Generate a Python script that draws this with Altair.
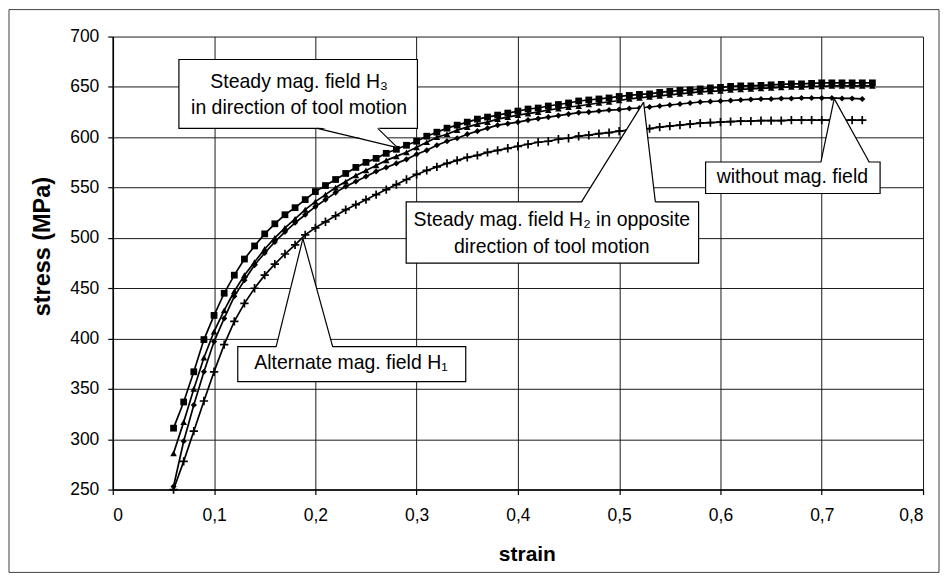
import altair as alt
import pandas as pd

# ---------------- data ----------------
STRAIN_LONG = [0.06, 0.07, 0.08, 0.09, 0.10, 0.11, 0.12, 0.13, 0.14, 0.15,
               0.16, 0.17, 0.18, 0.19, 0.20, 0.21, 0.22, 0.23, 0.24, 0.25,
               0.26, 0.27, 0.28, 0.29, 0.30, 0.31, 0.32, 0.33, 0.34, 0.35,
               0.36, 0.37, 0.38, 0.39, 0.40, 0.41, 0.42, 0.43, 0.44, 0.45,
               0.46, 0.47, 0.48, 0.49, 0.50, 0.51, 0.52, 0.53, 0.54, 0.55,
               0.56, 0.57, 0.58, 0.59, 0.60, 0.61, 0.62, 0.63, 0.64, 0.65,
               0.66, 0.67, 0.68, 0.69, 0.70, 0.71, 0.72, 0.73, 0.74, 0.75]
STRAIN_SHORT = [0.06, 0.07, 0.08, 0.09, 0.10, 0.11, 0.12, 0.13, 0.14, 0.15,
                0.16, 0.17, 0.18, 0.19, 0.20, 0.21, 0.22, 0.23, 0.24, 0.25,
                0.26, 0.27, 0.28, 0.29, 0.30, 0.31, 0.32, 0.33, 0.34, 0.35,
                0.36, 0.37, 0.38, 0.39, 0.40, 0.41, 0.42, 0.43, 0.44, 0.45,
                0.46, 0.47, 0.48, 0.49, 0.50, 0.51, 0.52, 0.53, 0.54, 0.55,
                0.56, 0.57, 0.58, 0.59, 0.60, 0.61, 0.62, 0.63, 0.64, 0.65,
                0.66, 0.67, 0.68, 0.69, 0.70, 0.71, 0.72, 0.73, 0.74]

# Steady mag. field H3 in direction of tool motion (squares)
STRESS_H3 = [311, 337, 367, 399, 423, 445, 463, 479, 492, 504,
             514, 523, 530, 538, 546, 552, 558, 564, 570, 575,
             579, 584, 588, 592, 596, 601, 605, 609, 612, 615,
             618, 620, 622, 624, 626, 628, 629, 631, 632.5, 634,
             636, 637, 638, 639, 640.5, 641.5, 642.5, 643, 644.5, 645.5,
             646.5, 647, 648, 649, 649.5, 650.5, 651, 651, 651.5, 652,
             652.5, 653, 653, 653.5, 654, 654, 654, 654, 654, 654]
# Steady mag. field H2 in opposite direction (triangles)
STRESS_H2 = [286, 317, 350, 381, 407, 428, 447, 463, 476, 489,
             500, 510, 519, 528, 536, 543, 550, 556, 562, 567,
             572, 577, 581, 585, 590, 595, 600, 603, 607, 610,
             613, 615, 618, 620, 622, 623.5, 625, 627, 628.5, 630,
             631, 632.5, 634, 635, 636.5, 638, 639, 640, 641, 642,
             643, 644, 645, 645.5, 646, 647, 647.5, 648, 648.5, 649,
             649.5, 650, 650, 650.5, 650.5, 651, 651, 651, 651, 651]
# without mag. field (diamonds)
STRESS_NONE = [253, 298, 334, 367, 397, 420, 442, 458, 473, 485,
               496, 506, 515, 523, 531, 538, 545, 551, 556, 561,
               566, 570, 574, 578, 583, 587, 592, 596, 599, 603,
               606, 609, 612, 613.5, 615, 617, 618.5, 620, 621.5, 623,
               624.5, 625, 626, 627, 627.5, 628.5, 629, 630, 631, 632,
               633, 634, 635, 635.5, 636, 636.5, 637, 637.5, 638, 638,
               638.5, 638.5, 639, 639, 639, 639, 638.5, 638.5, 638]
# Alternate mag. field H1 (crosses)
STRESS_H1 = [250, 278, 308, 338, 367, 394, 417, 435, 450, 463,
             474, 484, 493, 503, 510, 516, 522, 528, 533, 538,
             543, 548, 553, 558, 563, 567, 570.5, 574, 577, 580,
             582, 585, 587, 589, 591, 593, 595, 596, 598, 599,
             601, 602, 603.5, 604.5, 606, 607, 608, 608.5, 610, 611,
             612, 613, 614, 614.5, 615, 615.5, 616, 616, 616.5, 616.5,
             616.5, 617, 617, 617, 617, 617, 617, 617, 617]

X_TICKS = [0, 0.1, 0.2, 0.3, 0.4, 0.5, 0.6, 0.7, 0.8]
Y_TICKS = [250, 300, 350, 400, 450, 500, 550, 600, 650, 700]

# callout annotations (anchor positions in data units)
BOX_LABELS = ["H3", "H1", "H2", "none"]
BOX_X1 = [0.0653, 0.1234, 0.2897, 0.5853]
BOX_X2 = [0.3008, 0.3485, 0.5784, 0.7576]
BOX_Y1 = [677.2, 392.0, 535.8, 575.4]
BOX_Y2 = [608.8, 357.3, 475.0, 544.1]
PTR_BASE_L = [0.2020, 0.1613, 0.4628, 0.6992]
PTR_BASE_R = [0.2616, 0.2171, 0.5357, 0.7468]
PTR_BASE_Y = [608.8, 392.0, 535.8, 575.4]
PTR_TIP_X = [0.2811, 0.1877, 0.5241, 0.7123]
PTR_TIP_Y = [589.7, 499.3, 634.9, 638.3]

TEXT_LINES = ["Steady mag. field H\u2083", "in direction of tool motion",
              "Alternate mag. field H\u2081",
              "Steady mag. field H\u2082 in opposite", "direction of tool motion",
              "without mag. field"]
TEXT_X = [0.184, 0.184, 0.2352, 0.4335, 0.4335, 0.6710]
TEXT_Y = [648.8, 623.4, 369.6, 511.5, 484.5, 554.3]

# ---------------- build tables ----------------
def series_df(name, xs, ys):
    return pd.DataFrame({"strain": xs, "stress": ys, "series": name})

df_h3 = series_df("H3", STRAIN_LONG, STRESS_H3)
df_h2 = series_df("H2", STRAIN_LONG, STRESS_H2)
df_none = series_df("none", STRAIN_SHORT, STRESS_NONE)
df_h1 = series_df("H1", STRAIN_SHORT, STRESS_H1)
all_df = pd.concat([df_h3, df_h2, df_none, df_h1])

boxes = pd.DataFrame({"name": BOX_LABELS, "x1": BOX_X1, "x2": BOX_X2,
                      "y1": BOX_Y1, "y2": BOX_Y2})

ptr_rows = []
edge_rows = []
for i, n in enumerate(BOX_LABELS):
    inward = 1.5 if PTR_TIP_Y[i] < PTR_BASE_Y[i] else -1.5
    ptr_rows.append({"name": n, "y": PTR_BASE_Y[i] + inward,
                     "xl": PTR_BASE_L[i], "xr": PTR_BASE_R[i]})
    ptr_rows.append({"name": n, "y": PTR_TIP_Y[i],
                     "xl": PTR_TIP_X[i], "xr": PTR_TIP_X[i]})
    edge_rows += [
        {"edge": n + "L", "o": 0, "x": PTR_BASE_L[i], "y": PTR_BASE_Y[i]},
        {"edge": n + "L", "o": 1, "x": PTR_TIP_X[i], "y": PTR_TIP_Y[i]},
        {"edge": n + "R", "o": 0, "x": PTR_BASE_R[i], "y": PTR_BASE_Y[i]},
        {"edge": n + "R", "o": 1, "x": PTR_TIP_X[i], "y": PTR_TIP_Y[i]},
    ]
ptr_df = pd.DataFrame(ptr_rows)
edge_df = pd.DataFrame(edge_rows)
text_df = pd.DataFrame({"label": TEXT_LINES, "x": TEXT_X, "y": TEXT_Y})

W, H = 812, 454
FONT = "Liberation Sans"

xscale = alt.Scale(domain=[0, 0.8], nice=False, zero=False)
yscale = alt.Scale(domain=[250, 700], nice=False, zero=False)

x_axis = alt.Axis(values=X_TICKS, title="strain", grid=True,
                  labelExpr="datum.value == 0 ? '0' : replace(format(datum.value, '.1f'), '.', ',')",
                  labelFontSize=17.5, labelPadding=12, tickSize=5,
                  titleFontSize=21, titleFontWeight="bold",
                  titleX=415, titleY=65, titleBaseline="middle")
y_axis = alt.Axis(values=Y_TICKS, title="stress (MPa)", grid=True,
                  labelFontSize=17.5, labelPadding=9, tickSize=5,
                  titleFontSize=23.5, titleFontWeight="bold",
                  titleX=-70, titleY=210, titleAngle=270,
                  titleAlign="center", titleBaseline="middle")

X = alt.X("strain:Q", scale=xscale, axis=x_axis)
Y = alt.Y("stress:Q", scale=yscale, axis=y_axis)

frame = alt.Chart(pd.DataFrame({"a": [0]})).mark_rect(
    filled=False, stroke="#404040", strokeWidth=1
).encode(x=alt.value(-104), x2=alt.value(W + 16),
         y=alt.value(-27), y2=alt.value(H + 83))

base = alt.Chart(all_df)
lines = base.mark_line(color="black", strokeWidth=1.7).encode(
    x=X, y=Y, detail="series:N", order="strain:Q")

def pts(df, shape, size, filled=True, sw=0):
    return alt.Chart(df).mark_point(
        shape=shape, size=size, filled=filled, color="black",
        opacity=1, strokeWidth=sw if sw else 1
    ).encode(x=alt.X("strain:Q", scale=xscale),
             y=alt.Y("stress:Q", scale=yscale))

p_h3 = pts(df_h3, "square", 46)
p_h2 = pts(df_h2, "triangle-up", 44)
p_none = pts(df_none, "diamond", 38)
p_h1 = pts(df_h1, "M -1 0 L 1 0 M 0 -1 L 0 1", 70, filled=False, sw=1.7)

box_layer = alt.Chart(boxes).mark_rect(
    fill="white", stroke="black", strokeWidth=1.2
).encode(x=alt.X("x1:Q", scale=xscale), x2="x2:Q",
         y=alt.Y("y1:Q", scale=yscale), y2="y2:Q")

ptr_layer = alt.Chart(ptr_df).mark_area(
    fill="white", orient="horizontal", opacity=1
).encode(y=alt.Y("y:Q", scale=yscale), x=alt.X("xl:Q", scale=xscale),
         x2="xr:Q", detail="name:N")

edge_layer = alt.Chart(edge_df).mark_line(
    color="black", strokeWidth=1.2
).encode(x=alt.X("x:Q", scale=xscale), y=alt.Y("y:Q", scale=yscale),
         detail="edge:N", order="o:Q")

text_layer = alt.Chart(text_df).mark_text(
    font=FONT, fontSize=19.5, align="center", baseline="alphabetic", color="black"
).encode(x=alt.X("x:Q", scale=xscale), y=alt.Y("y:Q", scale=yscale),
         text="label:N")

axes_layer = alt.Chart(all_df).mark_point(opacity=0).encode(x=X, y=Y)

chart = alt.layer(
    axes_layer, frame, lines, p_h3, p_h2, p_none, p_h1,
    box_layer, ptr_layer, edge_layer, text_layer
).properties(
    width=W, height=H,
    autosize=alt.AutoSizeParams(type="none"),
    padding={"left": 105, "top": 28, "right": 17, "bottom": 84},
).configure(font=FONT).configure_view(
    stroke="transparent"
).configure_axis(
    gridColor="#1a1a1a", gridWidth=1, gridOpacity=1,
    domainColor="black", domainWidth=1.6, tickColor="black", tickWidth=1.2,
    labelColor="black", titleColor="black", labelFont=FONT, titleFont=FONT
)

chart.save("out.html", embed_options={"renderer": "svg", "actions": False})
